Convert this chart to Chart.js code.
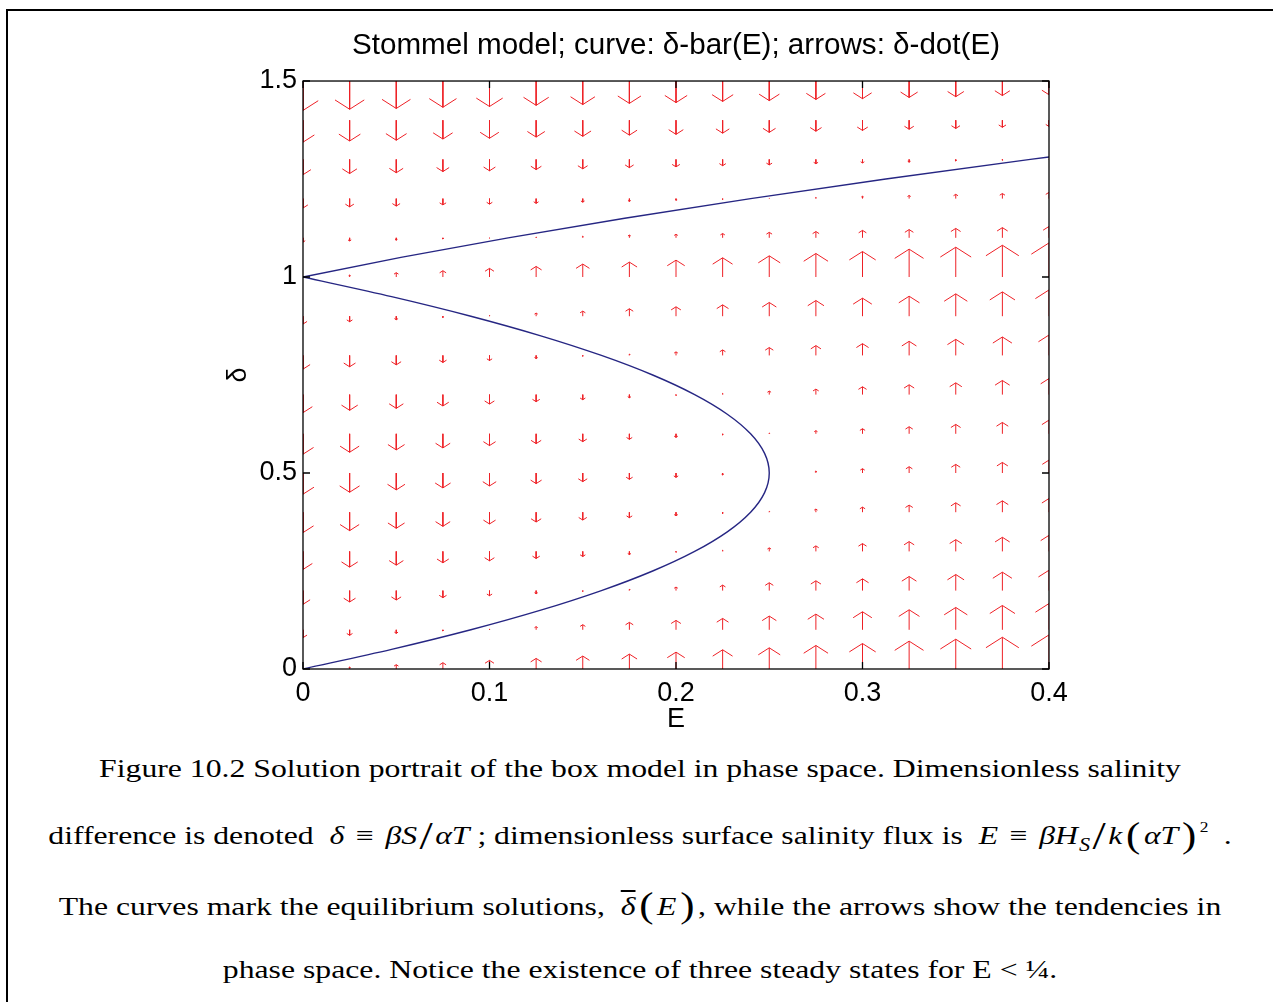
<!DOCTYPE html>
<html>
<head>
<meta charset="utf-8">
<script src="https://cdn.jsdelivr.net/npm/chart.js@4.4.1/dist/chart.umd.min.js"></script>
<style>
  html, body { margin: 0; padding: 0; background: #fff; }
  body { width: 1273px; height: 1002px; position: relative; overflow: hidden; }
  #frame { position: absolute; left: 6px; top: 9px; width: 1300px; height: 1010px;
           border-top: 2px solid #000; border-left: 2px solid #000; }
  #plot { position: absolute; left: 0; top: 0; }
  .cap { position: absolute; left: 0; width: 1280px; text-align: center; white-space: nowrap;
         font-family: 'Liberation Serif', 'Times New Roman', serif; font-size: 26px; line-height: 1;
         color: #000; transform: scaleX(1.22); transform-origin: 640px 0; }
  .m { font-style: italic; }
  .eq { margin: 0 3px; }
  .sl { font-size: 1.5em; font-weight: 100; vertical-align: -0.12em; margin: 0 2px; }
  .par { font-size: 1.35em; vertical-align: -0.07em; margin: 0 3px; }
  .sub { font-size: 0.7em; font-style: italic; vertical-align: -0.35em; margin-left: 1px; }
  .sup { font-size: 0.55em; vertical-align: 0.85em; margin-left: 0; margin-right: 6px; }
  .bar { text-decoration: overline; }
</style>
</head>
<body>
<div id="frame"></div>
<canvas id="plot" width="1273" height="745"></canvas>

<div class="cap" style="top:756px">Figure 10.2 Solution portrait of the box model in phase space. Dimensionless salinity</div>
<div class="cap" style="top:816px">difference is denoted&nbsp; <span class="m">δ</span> <span class="eq">≡</span> <span class="m">βS</span><span class="sl">/</span><span class="m">αT</span> ; dimensionless surface salinity flux is&nbsp; <span class="m">E</span> <span class="eq">≡</span> <span class="m">βH</span><span class="sub">S</span><span class="sl">/</span><span class="m">k</span><span class="par">(</span><span class="m">αT</span><span class="par">)</span><span class="sup">2</span>&nbsp;.</div>
<div class="cap" style="top:888px">The curves mark the equilibrium solutions,&nbsp; <span class="m bar">δ</span><span class="par">(</span><span class="m">E</span><span class="par">)</span>, while the arrows show the tendencies in</div>
<div class="cap" style="top:957px">phase space. Notice the existence of three steady states for E &lt; ¼.</div>

<script>
// grid of the arrow field
const eGrid = [0, 0.025, 0.05, 0.075, 0.1, 0.125, 0.15, 0.175, 0.2, 0.225, 0.25, 0.275, 0.3, 0.325, 0.35, 0.375, 0.4];
const deltaGrid = [0, 0.1, 0.2, 0.3, 0.4, 0.5, 0.6, 0.7, 0.8, 0.9, 1.0, 1.1, 1.2, 1.3, 1.4, 1.5];

// arrow length (delta-dot, drawn in delta units) for each row
const dotRow00 = [0, 0.005, 0.011, 0.016, 0.022, 0.027, 0.033, 0.038, 0.043, 0.049, 0.054, 0.060, 0.065, 0.071, 0.076, 0.081, 0.087];
const dotRow01 = [-0.020, -0.014, -0.009, -0.003, 0.002, 0.008, 0.013, 0.019, 0.024, 0.029, 0.035, 0.040, 0.046, 0.051, 0.057, 0.062, 0.067];
const dotRow02 = [-0.035, -0.029, -0.024, -0.018, -0.013, -0.008, -0.002, 0.003, 0.009, 0.014, 0.020, 0.025, 0.030, 0.036, 0.041, 0.047, 0.052];
const dotRow03 = [-0.046, -0.040, -0.035, -0.029, -0.024, -0.018, -0.013, -0.008, -0.002, 0.003, 0.009, 0.014, 0.020, 0.025, 0.030, 0.036, 0.041];
const dotRow04 = [-0.052, -0.047, -0.041, -0.036, -0.030, -0.025, -0.020, -0.014, -0.009, -0.003, 0.002, 0.008, 0.013, 0.018, 0.024, 0.029, 0.035];
const dotRow05 = [-0.054, -0.049, -0.043, -0.038, -0.033, -0.027, -0.022, -0.016, -0.011, -0.005, 0, 0.005, 0.011, 0.016, 0.022, 0.027, 0.033];
const dotRow06 = [-0.052, -0.047, -0.041, -0.036, -0.030, -0.025, -0.020, -0.014, -0.009, -0.003, 0.002, 0.008, 0.013, 0.018, 0.024, 0.029, 0.035];
const dotRow07 = [-0.046, -0.040, -0.035, -0.029, -0.024, -0.018, -0.013, -0.008, -0.002, 0.003, 0.009, 0.014, 0.020, 0.025, 0.030, 0.036, 0.041];
const dotRow08 = [-0.035, -0.029, -0.024, -0.018, -0.013, -0.008, -0.002, 0.003, 0.009, 0.014, 0.020, 0.025, 0.030, 0.036, 0.041, 0.047, 0.052];
const dotRow09 = [-0.020, -0.014, -0.009, -0.003, 0.002, 0.008, 0.013, 0.019, 0.024, 0.029, 0.035, 0.040, 0.046, 0.051, 0.057, 0.062, 0.067];
const dotRow10 = [0, 0.005, 0.011, 0.016, 0.022, 0.027, 0.033, 0.038, 0.043, 0.049, 0.054, 0.060, 0.065, 0.071, 0.076, 0.081, 0.087];
const dotRow11 = [-0.011, -0.008, -0.006, -0.003, -0.001, 0.002, 0.004, 0.007, 0.009, 0.011, 0.014, 0.016, 0.019, 0.021, 0.024, 0.026, 0.029];
const dotRow12 = [-0.024, -0.021, -0.019, -0.016, -0.014, -0.012, -0.009, -0.007, -0.004, -0.002, 0.001, 0.003, 0.006, 0.008, 0.011, 0.013, 0.016];
const dotRow13 = [-0.039, -0.036, -0.034, -0.031, -0.029, -0.026, -0.024, -0.021, -0.019, -0.016, -0.014, -0.011, -0.009, -0.007, -0.004, -0.002, 0.001];
const dotRow14 = [-0.056, -0.053, -0.051, -0.048, -0.046, -0.043, -0.041, -0.038, -0.036, -0.033, -0.031, -0.028, -0.026, -0.023, -0.021, -0.018, -0.016];
const dotRow15 = [-0.075, -0.072, -0.070, -0.067, -0.065, -0.062, -0.060, -0.057, -0.055, -0.052, -0.050, -0.047, -0.045, -0.042, -0.040, -0.037, -0.035];
const arrowRows = [dotRow00, dotRow01, dotRow02, dotRow03, dotRow04, dotRow05, dotRow06, dotRow07,
                   dotRow08, dotRow09, dotRow10, dotRow11, dotRow12, dotRow13, dotRow14, dotRow15];

// equilibrium curve delta-bar(E)
const lowerE = [0, 0.0475, 0.09, 0.1275, 0.16, 0.1875, 0.21, 0.2275, 0.24, 0.2475, 0.25,
                0.2475, 0.24, 0.2275, 0.21, 0.1875, 0.16, 0.1275, 0.09, 0.0475, 0];
const lowerDelta = [0, 0.05, 0.1, 0.15, 0.2, 0.25, 0.3, 0.35, 0.4, 0.45, 0.5,
                    0.55, 0.6, 0.65, 0.7, 0.75, 0.8, 0.85, 0.9, 0.95, 1.0];
const upperE = [0, 0.0525, 0.11, 0.1725, 0.24, 0.3125, 0.39, 0.4];
const upperDelta = [1.0, 1.05, 1.1, 1.15, 1.2, 1.25, 1.3, 1.306];

const xTickLabels = ['0', '0.1', '0.2', '0.3', '0.4'];
const yTickLabels = ['0', '0.5', '1', '1.5'];

const sans = "'Liberation Sans', Arial, Helvetica, sans-serif";

// quiver style arrows: shaft + head, separated by gaps
const HEAD = 0.33;
const arrowPts = [];
deltaGrid.forEach((d, i) => {
  eGrid.forEach((e, j) => {
    const v = arrowRows[i][j];
    const tip = d + v;
    const back = tip - HEAD * v;
    const side = HEAD * HEAD * Math.abs(v);
    arrowPts.push({x: e, y: d}, {x: e, y: tip}, {x: e, y: null});
    arrowPts.push({x: e - side, y: back}, {x: e, y: tip}, {x: e + side, y: back}, {x: e, y: null});
  });
});

const toPts = (xs, ys) => xs.map((x, i) => ({x: x, y: ys[i]}));

// box round the axes with inward ticks on all four sides
const axesBox = {
  id: 'axesBox',
  afterDatasetsDraw(chart) {
    const {ctx, chartArea: a, scales: {x, y}} = chart;
    ctx.save();
    ctx.strokeStyle = '#000';
    ctx.lineWidth = 1.3;
    ctx.strokeRect(a.left, a.top, a.right - a.left, a.bottom - a.top);
    ctx.beginPath();
    x.ticks.forEach(t => {
      const px = x.getPixelForValue(t.value);
      ctx.moveTo(px, a.bottom); ctx.lineTo(px, a.bottom - 7);
      ctx.moveTo(px, a.top); ctx.lineTo(px, a.top + 7);
    });
    y.ticks.forEach(t => {
      const py = y.getPixelForValue(t.value);
      ctx.moveTo(a.left, py); ctx.lineTo(a.left + 7, py);
      ctx.moveTo(a.right, py); ctx.lineTo(a.right - 7, py);
    });
    ctx.stroke();
    ctx.restore();
  }
};

new Chart(document.getElementById('plot'), {
  type: 'scatter',
  data: {
    datasets: [
      {
        data: arrowPts,
        showLine: true,
        spanGaps: false,
        borderColor: 'rgb(238, 32, 38)',
        borderWidth: 1,
        pointRadius: 0
      },
      {
        data: toPts(lowerE, lowerDelta),
        showLine: true,
        borderColor: '#262683',
        borderWidth: 1.4,
        tension: 0.3,
        pointRadius: 0
      },
      {
        data: toPts(upperE, upperDelta),
        showLine: true,
        borderColor: '#262683',
        borderWidth: 1.4,
        pointRadius: 0
      }
    ]
  },
  options: {
    responsive: false,
    animation: false,
    events: [],
    layout: { padding: { left: 0, right: 224, top: 0, bottom: 0 } },
    plugins: {
      legend: { display: false },
      tooltip: { enabled: false },
      title: {
        display: true,
        fullSize: false,
        text: 'Stommel model; curve: δ-bar(E); arrows: δ-dot(E)',
        color: '#000',
        font: { family: sans, size: 29.6, weight: 'normal', lineHeight: 1.2 },
        padding: { top: 28.5, bottom: 17 }
      }
    },
    scales: {
      x: {
        type: 'linear',
        min: 0,
        max: 0.4,
        afterFit: s => { s.height = 76; },
        grid: { display: false, drawTicks: false },
        border: { display: false },
        ticks: {
          stepSize: 0.1,
          autoSkip: false,
          maxRotation: 0,
          padding: 8,
          color: '#000',
          font: { family: sans, size: 27 },
          callback: (v, i) => xTickLabels[i]
        },
        title: {
          display: true,
          text: 'E',
          color: '#000',
          font: { family: sans, size: 27, lineHeight: 1.2 },
          padding: { top: 0, bottom: 9 }
        }
      },
      y: {
        type: 'linear',
        min: 0,
        max: 1.5,
        afterFit: s => { s.width = 303; },
        grid: { display: false, drawTicks: false },
        border: { display: false },
        ticks: {
          stepSize: 0.5,
          autoSkip: false,
          padding: 6,
          color: '#000',
          font: { family: sans, size: 27 },
          callback: (v, i) => yTickLabels[i]
        },
        title: {
          display: true,
          text: 'δ',
          color: '#000',
          font: { family: sans, size: 27, lineHeight: 1.2 },
          padding: { top: 222, bottom: 0 }
        }
      }
    }
  },
  plugins: [axesBox]
});
</script>
</body>
</html>
